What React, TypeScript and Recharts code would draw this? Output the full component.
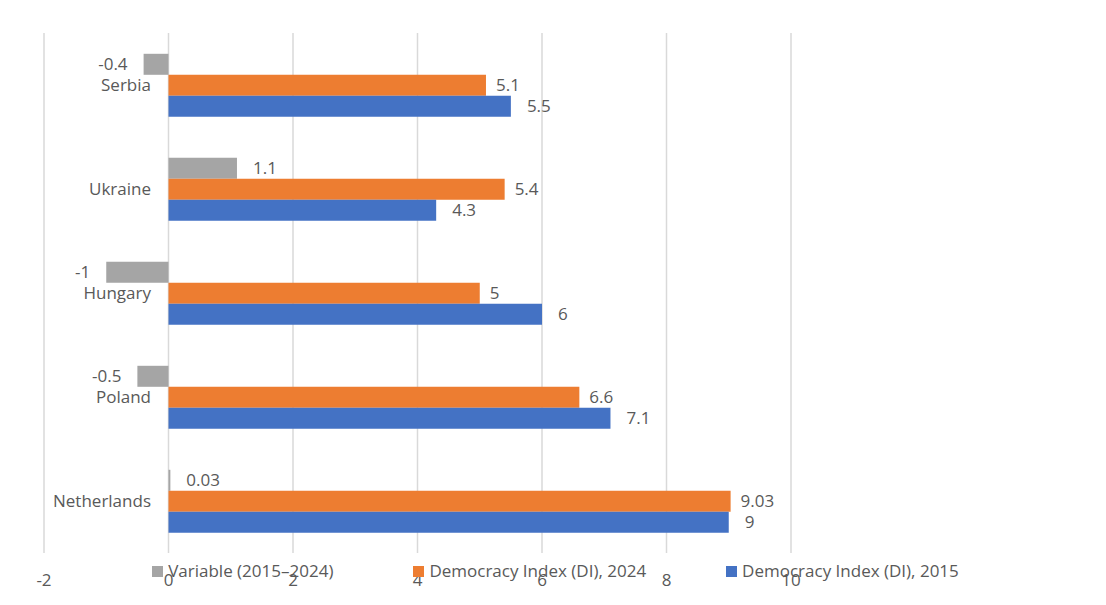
import React from "react";
import {
  BarChart,
  Bar,
  XAxis,
  YAxis,
  CartesianGrid,
  LabelList,
} from "recharts";

const countries = ["Serbia", "Ukraine", "Hungary", "Poland", "Netherlands"];
const variable = [-0.4, 1.1, -1, -0.5, 0.03];
const di2024 = [5.1, 5.4, 5, 6.6, 9.03];
const di2015 = [5.5, 4.3, 6, 7.1, 9];
const xTicks = [-2, 0, 2, 4, 6, 8, 10];

const series = [
  { key: "variable", name: "Variable (2015\u20132024)", color: "#a5a5a5", offset: 16 },
  { key: "di2024", name: "Democracy Index (DI), 2024", color: "#ed7d31", offset: 10 },
  { key: "di2015", name: "Democracy Index (DI), 2015", color: "#4472c4", offset: 16 },
];

const data = countries.map((country, i) => ({
  country,
  variable: variable[i],
  di2024: di2024[i],
  di2015: di2015[i],
}));

const textColor = "#595959";
const font = "'Open Sans', 'Noto Sans', sans-serif";
const fontSize = 17;

// category names sit just left of the zero line, like Excel's axis labels
const CountryTick = (props: any) => {
  const { x, y, payload } = props;
  return (
    <text
      x={x + 107}
      y={y}
      dy="0.35em"
      textAnchor="end"
      fill={textColor}
      fontSize={fontSize}
      fontFamily={font}
    >
      {payload.value}
    </text>
  );
};

const App = () => {
  return (
    <div
      style={{
        position: "relative",
        marginTop: -4,
        marginLeft: -1,
        width: 1099,
        height: 600,
        borderTop: "1px solid #d9d9d9",
        borderLeft: "1px solid #d9d9d9",
        fontFamily: font,
      }}
    >
      <BarChart
        width={1098}
        height={600}
        data={data}
        layout="vertical"
        barCategoryGap="20%"
        barGap={0}
        margin={{ top: 28, right: 315, bottom: 22, left: 35 }}
      >
        <CartesianGrid horizontal={false} stroke="#d9d9d9" strokeWidth={1.5} />
        <XAxis
          type="number"
          domain={[-2, 10]}
          ticks={xTicks}
          axisLine={false}
          tickLine={false}
          tickMargin={15}
          height={30}
          tick={{ fill: textColor, fontSize, fontFamily: font }}
        />
        <YAxis
          type="category"
          dataKey="country"
          width={1}
          axisLine={false}
          tickLine={false}
          tickSize={0}
          tickMargin={0}
          tick={<CountryTick />}
        />
        {series.map((s) => (
          <Bar
            key={s.key}
            dataKey={s.key}
            name={s.name}
            fill={s.color}
            isAnimationActive={false}
          >
            <LabelList
              dataKey={s.key}
              position="right"
              offset={s.offset}
              fill={textColor}
              fontSize={fontSize}
              fontFamily={font}
            />
          </Bar>
        ))}
      </BarChart>
      <div
        style={{
          position: "absolute",
          left: 0,
          right: 4,
          top: 556,
          display: "flex",
          justifyContent: "center",
          gap: 80,
          fontSize,
          color: textColor,
          lineHeight: "20px",
        }}
      >
        {series.map((s) => (
          <div key={s.key} style={{ display: "flex", alignItems: "center" }}>
            <span
              style={{
                display: "inline-block",
                width: 11,
                height: 11,
                background: s.color,
                marginRight: 5,
              }}
            />
            <span>{s.name}</span>
          </div>
        ))}
      </div>
    </div>
  );
};

export default App;
